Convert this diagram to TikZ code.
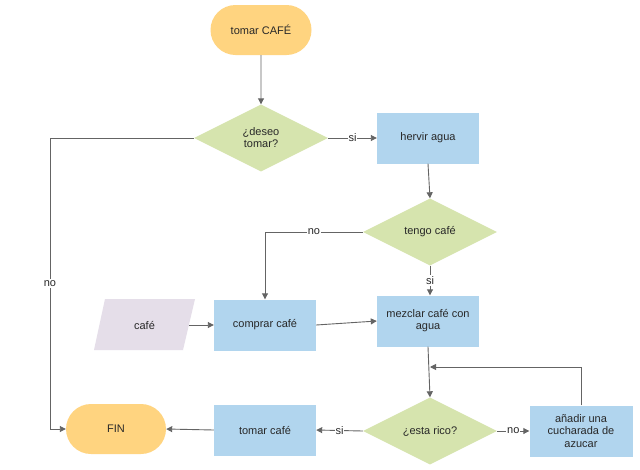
\documentclass[tikz,border=0pt]{standalone}
\usepackage{fontspec}
\setmainfont{Liberation Sans}
\usetikzlibrary{shapes.geometric,shapes.misc,arrows.meta}
\definecolor{termfill}{RGB}{255,212,128}
\definecolor{decfill}{RGB}{214,228,174}
\definecolor{procfill}{RGB}{177,213,238}
\definecolor{iofill}{RGB}{229,222,233}
\definecolor{linec}{RGB}{100,100,100}
\definecolor{textc}{RGB}{40,40,40}
\tikzset{
  x=1pt,y=-1pt,
  every node/.style={font=\fontsize{11}{13}\selectfont,text=textc},
  term/.style={rounded rectangle,fill=termfill,minimum width=101pt,minimum height=50pt,inner sep=0pt},
  dec/.style={diamond,fill=decfill,aspect=2,inner sep=0pt,minimum width=134pt,minimum height=67pt,align=center},
  proc/.style={rectangle,fill=procfill,minimum width=102pt,minimum height=51pt,inner sep=0pt,align=center},
  conn/.style={draw=linec,line width=0.9pt,-{Triangle[length=6pt,width=6pt]}},
  lbl/.style={fill=white,inner sep=1pt}
}
\begin{document}
\begin{tikzpicture}
\useasboundingbox (0,0) rectangle (640,469);
\fill[white] (0,0) rectangle (640,469);
% nodes
\node[term] (start) at (261,30) {tomar CAFÉ};
\node[dec] (deseo) at (261,138) {¿deseo\\[-1pt]tomar?};
\node[proc] (hervir) at (428,138) {hervir agua};
\node[dec] (tengo) at (430,232) {tengo café};
\node[proc] (mezclar) at (428,321) {mezclar café con\\[-1pt]agua};
\node[proc] (comprar) at (265,325) {comprar café};
\fill[iofill] (105,299) -- (195,299) -- (183,350) -- (94,350) -- cycle;
\node (cafe) at (144.5,325) {café};
\node[dec] (rico) at (430,431) {¿esta rico?};
\node[proc,minimum width=103pt] (anadir) at (581,431) {añadir una\\[-0.5pt]cucharada de\\[-0.5pt]azucar};
\node[proc] (tomar) at (265,430) {tomar café};
\node[term,minimum width=100pt] (fin) at (116,429) {FIN};
\coordinate (loop) at (430,367);
% connectors
\draw[conn] (start) -- (deseo);
\draw[conn] (deseo) -- node[lbl,pos=0.5]{si} (hervir);
\draw[conn] (deseo.west) -- (50,138) -- node[lbl,pos=0.5]{no} (50,429) -- (fin.west);
\draw[conn] (hervir.south) -- (tengo.north);
\draw[conn] (tengo.west) -- node[lbl,pos=0.5]{no} (265,232) -- (comprar.north);
\draw[conn] (tengo.south) -- node[lbl,pos=0.5]{si} (mezclar.north -| tengo.south);
\draw[conn] (cafe.east -| 189,325) -- (comprar.west);
\draw[conn] (comprar.east) -- (mezclar.west);
\draw[conn] (mezclar.south) -- (rico.north);
\draw[conn] (anadir.north) -- (581,367) -- (loop);
\draw[conn] (rico.east) -- node[lbl,pos=0.5]{no} (anadir.west);
\draw[conn] (rico.west) -- node[lbl,pos=0.5]{si} (tomar.east);
\draw[conn] (tomar.west) -- (fin.east);
\end{tikzpicture}
\end{document}
